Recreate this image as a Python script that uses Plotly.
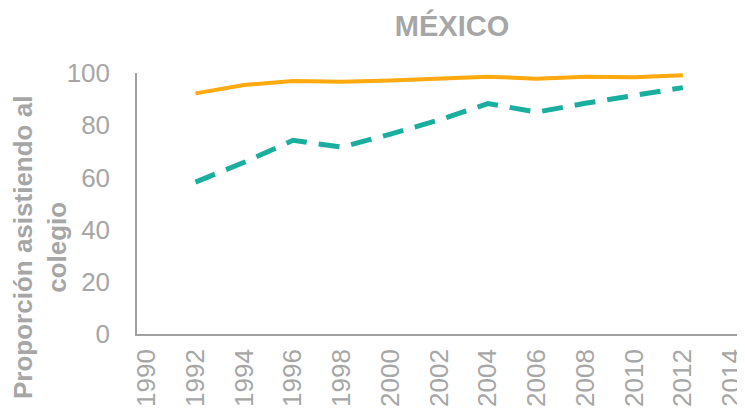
import plotly.graph_objects as go

years = [1992, 1994, 1996, 1998, 2000, 2002, 2004, 2006, 2008, 2010, 2012]
serie_naranja = [92.2, 95.4, 96.9, 96.6, 97.1, 97.8, 98.6, 97.8, 98.6, 98.4, 99.1]
serie_verde = [58.2, 65.8, 74.2, 71.6, 76.6, 82.0, 88.3, 85.0, 88.4, 91.4, 94.4]
x_ticks = list(range(1990, 2015, 2))
y_ticks = [0, 20, 40, 60, 80, 100]

gris = '#a6a6a6'

# la página tiene 8px de margen en el body, así que la figura se reduce 8px
W, H = 737, 405

fig = go.Figure()
fig.add_trace(go.Scatter(x=years, y=serie_naranja, mode='lines',
                         line=dict(color='#fda90f', width=4)))
fig.add_trace(go.Scatter(x=years, y=serie_verde, mode='lines',
                         line=dict(color='#1aae9f', width=5, dash='21px,12px')))

fig.update_layout(
    width=W, height=H,
    margin=dict(l=129, r=0, t=65, b=79),
    paper_bgcolor='white', plot_bgcolor='white',
    showlegend=False,
    font=dict(family='Liberation Sans, Arial', color=gris),
    title=dict(text='<b>MÉXICO</b>', x=444/W, xanchor='center', y=1 - 18/H,
               yanchor='middle', font=dict(size=29, color=gris)),
)
fig.update_xaxes(range=[1989.6, 2014.55], tickvals=x_ticks, tickangle=-90,
                 tickfont=dict(size=26, color=gris), showgrid=False,
                 showline=True, linecolor='#a0a0a0', linewidth=1.5,
                 zeroline=False, ticks='', ticklabelstandoff=3,
                 ticklabeloverflow='allow', automargin=False)
fig.update_yaxes(range=[0, 100], tickvals=y_ticks,
                 tickfont=dict(size=26, color=gris), showgrid=False,
                 showline=True, linecolor='#a0a0a0', linewidth=1.5,
                 zeroline=False, ticks='', ticklabelstandoff=20,
                 automargin=False)

fig.add_annotation(text='<b>Proporción asistiendo al<br>colegio</b>',
                   xref='paper', yref='paper', x=(32 - 129) / 608, y=(326 - 240) / 261,
                   xanchor='center', yanchor='middle', textangle=-90,
                   showarrow=False, font=dict(size=26, color=gris),
                   align='center')

fig.write_html("out.html")
